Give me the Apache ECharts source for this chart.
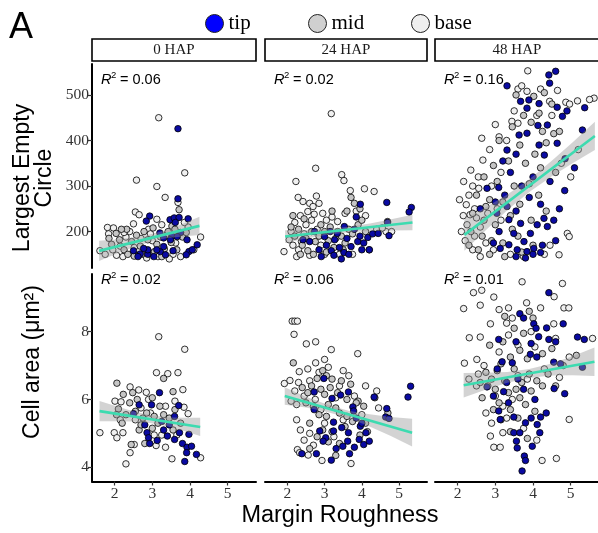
<!DOCTYPE html>
<html><head><meta charset="utf-8">
<script src="https://cdn.jsdelivr.net/npm/echarts@6/dist/echarts.min.js"></script>
<style>html,body{margin:0;padding:0;background:#fff}#c{width:598px;height:533px}</style>
</head><body><div id="c"></div>
<script>
// ---------- labels / ticks ----------
const panelNames = ['0 HAP', '24 HAP', '48 HAP'];
const r2Lec = ['0.06', '0.02', '0.16'];
const r2Area = ['0.02', '0.06', '0.01'];
const xTicks = [2, 3, 4, 5];
const lecTicks = [200, 300, 400, 500];
const areaTicks = [4, 6, 8];
const typeNames = ['tip', 'mid', 'base'];

// ---------- 0 HAP : Largest Empty Circle ----------
const lec0_tip = [[3.68,426],[3.68,272],[2.93,234],[2.84,223],[3.47,226],[3.58,230],[3.71,231],[3.95,228],[3.61,220],[3.20,197],[3.52,190],[3.75,198],
[2.50,158],[2.68,151],[2.88,150],[3.04,145],[3.21,156],[3.35,149],[3.12,160],[2.88,160],[3.30,167],[2.77,163],[3.48,182],[3.66,189],[3.92,182],[3.97,156],[4.19,171],[4.06,160],[3.90,149],[2.62,145],[3.55,158],[3.30,186]];
const lec0_mid = [[3.71,248],[3.52,212],[3.60,205],[2.04,196],[2.13,182],[1.92,172],[2.25,160],[2.35,150],[2.45,178],[2.58,192],[2.68,168],[2.78,200],[2.88,182],[2.98,152],[3.02,208],[3.12,172],[3.22,188],[3.32,162],[3.42,200],[3.50,176],[3.80,188],[3.90,198],[2.32,205],[2.52,146],[3.06,156],[2.72,150],[3.25,145],[3.65,160],[1.85,185],[2.18,205]];
const lec0_base = [[3.17,450],[3.86,329],[2.58,313],[3.12,299],[3.34,275],[3.68,264],[2.55,243],[2.65,237],[3.12,227],[2.50,217],[1.81,209],[1.97,208],[1.84,195],[1.61,158],[1.75,150],[2.05,148],[2.22,145],[2.40,200],[2.30,188],[2.52,165],[2.70,185],[2.90,205],[3.00,180],[3.25,215],[3.40,195],[3.55,150],[3.75,145],[3.95,210],[4.28,188],[4.10,160],[2.15,168],[2.85,142],[3.45,140],[3.85,220],[2.25,198],[2.95,195],[3.15,145],[2.62,148],[1.95,160],[3.62,175]];

// ---------- 24 HAP : Largest Empty Circle ----------
const lec24_tip = [[3.96,260],[4.67,264],[5.33,253],[5.27,243],[4.73,191],[4.69,220],[2.91,145],[3.18,158],[3.52,154],[3.71,167],[3.89,178],[4.16,187],[4.29,195],[4.44,196],[4.20,160],[3.27,182],[3.00,189],[3.53,211],[3.34,196],[3.80,205],[2.73,200],[2.42,182],[3.05,170],[3.40,165],[3.60,185],[3.95,190],[4.05,175],[2.85,160],[3.15,200],[3.65,150],[3.85,232],[3.45,140],[2.60,178],[3.25,148],[4.00,160]];
const lec24_mid = [[3.71,275],[3.80,262],[3.60,245],[2.10,210],[2.20,190],[2.30,205],[2.40,170],[2.50,185],[2.55,158],[2.65,200],[2.75,178],[2.85,190],[2.90,215],[3.00,200],[3.10,180],[3.15,210],[3.25,165],[3.35,200],[3.45,190],[3.55,175],[3.65,205],[3.75,195],[3.90,215],[4.00,225],[4.10,200],[2.35,150],[2.70,150],[3.05,155],[3.50,160],[2.15,235],[3.95,250],[4.69,222],[2.45,228],[3.20,245]];
const lec24_base = [[3.18,459],[2.76,339],[2.23,310],[3.46,325],[3.52,312],[2.78,278],[3.69,290],[4.07,294],[4.33,288],[2.29,275],[2.42,266],[2.60,262],[2.69,255],[2.85,262],[2.72,238],[2.55,244],[1.91,156],[2.10,200],[2.05,182],[2.20,220],[2.35,235],[2.50,215],[2.15,170],[2.30,160],[2.45,195],[2.65,225],[2.80,205],[2.95,240],[3.05,225],[3.20,232],[3.35,222],[3.55,240],[3.85,245],[4.10,235],[4.40,205],[4.65,200],[3.00,150],[3.40,150],[2.60,148],[2.25,145],[3.75,150],[4.20,160],[2.90,170],[3.30,185],[2.38,178],[4.55,208],[4.80,200]];

// ---------- 48 HAP : Largest Empty Circle ----------
const lec48_tip = [[4.60,552],[4.42,544],[4.44,526],[3.31,520],[3.67,486],[3.89,489],[3.84,471],[4.16,481],[4.64,473],[5.37,472],[4.90,465],[4.78,453],[3.63,412],[3.84,416],[4.13,433],[4.38,434],[5.31,423],[4.64,394],[4.16,390],[3.31,379],[3.20,355],[3.55,370],[4.30,368],[4.85,360],[5.10,340],[2.78,295],[3.09,297],[4.84,290],[4.00,320],[3.70,300],[4.45,310],[3.40,330],[2.60,250],[3.00,265],[3.25,280],[3.90,275],[4.20,260],[4.70,250],[3.55,245],
[3.13,163],[3.36,171],[3.58,160],[3.84,156],[4.02,163],[4.20,154],[3.76,178],[3.49,196],[3.93,196],[4.11,215],[4.29,229],[4.38,211],[3.67,218],[3.36,226],[3.31,255],[3.04,240],[3.55,145],[3.80,142],[4.00,150],[2.95,175],[3.10,200],[4.55,225],[4.60,180],[4.25,170]];
const lec48_mid = [[4.02,497],[4.16,460],[3.55,500],[4.30,505],[3.75,455],[4.50,480],[3.45,430],[3.95,440],[4.25,420],[4.55,415],[3.10,400],[3.65,390],[4.05,370],[4.35,395],[2.95,345],[3.35,355],[3.80,350],[4.20,340],[4.60,330],[2.70,320],[3.05,310],[3.50,300],[3.90,305],[2.50,280],[2.85,270],[3.20,265],[3.65,260],[4.15,280],[2.40,240],[2.70,225],[3.00,215],[3.45,205],[3.95,225],[4.35,245],[2.35,200],[2.65,190],[2.90,180],[3.20,175],[3.60,190],[4.00,170],[2.55,160],[2.85,150],[3.25,145],[3.70,155],[2.30,170],[3.40,235],[4.70,420],[2.75,255]];
const lec48_base = [[3.86,553],[3.60,513],[3.84,508],[4.20,513],[4.44,486],[4.87,484],[4.97,480],[5.18,487],[5.62,493],[3.44,442],[3.60,438],[2.64,405],[3.10,408],[3.30,400],[2.16,310],[2.35,335],[2.67,357],[2.56,295],[2.23,259],[2.33,237],[2.45,250],[4.91,196],[4.96,189],[4.69,149],[5.00,320],[4.75,350],[5.20,380],[3.00,435],[2.85,380],[2.40,300],[2.05,270],[2.15,235],[2.25,215],[2.50,230],[2.10,200],[2.20,180],[2.40,160],[2.45,190],[2.60,210],[2.75,175],[2.95,160],[3.05,250],[3.15,225],[2.80,240],[2.60,145],[3.40,150],[3.75,145],[4.30,150],[4.45,170],[3.50,465],[4.10,455],[4.50,455],[2.90,300],[3.15,330],[2.55,320],[3.70,520],[4.65,510],[5.50,490],[2.30,280]];

// ---------- 0 HAP : Cell area ----------
const area0_tip = [[3.19,6.20],[2.65,5.84],[2.98,5.84],[3.70,5.82],[3.59,5.50],[2.50,5.58],[2.86,5.02],[2.90,4.87],[2.93,4.70],[3.13,4.79],[3.40,4.92],[3.59,4.82],[3.72,5.02],[3.97,4.97],[3.80,4.70],[3.92,4.59],[4.04,4.62],[3.91,4.43],[3.86,4.17],[4.17,4.38],[3.30,5.10],[3.45,5.25],[3.25,5.35],[2.80,5.25]];
const area0_mid = [[2.06,6.48],[2.48,6.20],[2.23,6.15],[3.55,6.23],[2.40,5.90],[2.60,6.00],[3.00,6.05],[2.10,5.72],[2.30,5.55],[2.55,5.65],[2.75,5.45],[2.85,5.60],[3.05,5.50],[3.15,5.30],[3.30,5.55],[3.45,5.45],[3.60,5.70],[2.20,5.30],[2.65,5.10],[3.00,5.15],[3.55,5.10],[2.44,4.67],[2.80,4.70],[3.30,6.62],[2.05,5.55],[3.75,5.30],[3.20,5.80],[2.70,5.25]];
const area0_base = [[3.17,7.85],[3.86,7.48],[3.11,6.79],[3.41,6.76],[3.68,6.79],[2.41,6.37],[2.64,6.28],[2.84,6.21],[3.81,6.29],[2.01,5.95],[2.17,5.93],[3.84,5.77],[3.95,5.58],[1.61,5.02],[1.99,5.02],[2.06,4.87],[2.22,5.02],[2.52,4.67],[2.41,4.43],[2.30,4.10],[3.10,4.64],[3.35,4.59],[4.28,4.28],[3.52,4.25],[2.95,5.60],[3.35,5.80],[2.55,5.40],[3.60,5.95],[2.15,5.40],[3.05,4.95],[3.65,4.95],[3.25,4.95],[2.70,5.75],[2.90,6.00]];

// ---------- 24 HAP : Cell area ----------
const area24_tip = [[2.98,6.62],[2.72,6.22],[3.20,6.03],[3.64,6.22],[3.43,6.13],[3.76,5.78],[3.78,5.66],[4.33,6.07],[5.31,6.39],[5.24,6.07],[4.67,5.73],[4.64,5.48],[4.73,5.44],[3.24,5.33],[2.87,5.07],[3.24,5.07],[3.46,5.17],[3.64,5.02],[3.96,5.21],[4.11,5.02],[4.20,4.77],[4.05,4.67],[3.93,4.82],[3.62,4.77],[3.49,4.62],[3.31,4.55],[3.80,4.59],[3.67,4.40],[3.03,4.87],[2.96,4.77],[2.78,4.40],[2.39,4.40],[3.18,4.21],[2.72,5.70],[3.85,5.45],[4.00,5.30]];
const area24_mid = [[2.16,7.08],[2.95,6.85],[3.05,6.70],[2.80,6.62],[3.20,6.60],[2.65,6.40],[2.90,6.30],[3.15,6.35],[3.45,6.55],[3.70,6.45],[2.40,6.35],[2.55,6.20],[3.00,6.15],[3.35,6.20],[3.60,6.00],[3.90,5.95],[2.50,5.90],[2.70,5.80],[3.10,5.85],[3.30,5.75],[3.85,5.90],[4.05,5.80],[2.85,5.55],[3.05,5.50],[3.40,5.60],[3.60,5.50],[3.75,5.35],[4.10,5.30],[2.60,5.30],[2.95,5.10],[3.20,5.05],[3.55,5.20],[2.80,4.90],[3.10,4.75],[3.40,4.70],[3.95,4.95],[4.15,5.05],[2.60,4.55],[3.30,4.35],[4.35,6.05],[4.70,5.60]];
const area24_base = [[2.13,8.31],[2.20,8.31],[2.27,8.31],[2.18,7.92],[2.51,7.64],[2.76,7.70],[3.18,7.47],[3.89,7.35],[2.76,7.08],[3.00,7.18],[2.32,6.82],[1.92,6.47],[2.07,6.56],[2.55,6.90],[2.85,6.80],[3.10,6.95],[3.50,6.85],[3.65,6.70],[2.30,6.50],[2.60,6.55],[3.40,6.40],[4.10,6.40],[4.40,6.25],[2.20,6.25],[2.45,6.10],[2.75,6.00],[3.30,6.05],[3.80,6.10],[4.45,5.75],[2.25,5.85],[2.90,5.70],[2.25,5.40],[2.35,5.10],[2.60,5.00],[3.00,5.30],[3.50,5.40],[4.00,5.55],[2.27,4.52],[2.33,4.43],[2.56,4.36],[2.93,4.20],[3.71,4.11],[2.45,4.80],[2.70,4.65],[3.25,4.90],[2.10,5.95]];

// ---------- 48 HAP : Cell area ----------
const area48_tip = [[4.42,9.15],[3.65,8.53],[3.75,8.40],[4.02,8.23],[4.08,8.10],[4.36,8.11],[4.80,8.23],[5.18,7.84],[5.36,7.77],[3.09,7.77],[3.55,7.70],[3.95,7.65],[4.15,7.85],[4.42,7.77],[4.60,7.70],[3.18,7.11],[3.45,7.08],[3.93,7.33],[4.10,7.25],[4.73,7.05],[5.31,6.95],[4.55,7.10],[2.78,6.37],[3.22,6.23],[3.75,6.30],[4.56,6.32],[4.84,6.17],[3.09,5.66],[3.35,5.90],[3.13,5.41],[3.49,5.48],[3.80,5.31],[3.95,5.45],[4.11,5.26],[4.20,5.48],[4.35,5.60],[3.49,5.02],[3.65,5.02],[4.18,5.02],[3.56,4.77],[3.58,4.57],[3.98,4.62],[3.77,4.33],[3.80,4.20],[3.71,3.89],[3.05,6.90],[3.60,6.60],[4.05,6.00],[3.30,6.50],[2.95,6.10]];
const area48_mid = [[2.90,6.60],[3.05,6.85],[3.25,6.55],[3.50,6.90],[3.70,6.50],[3.90,6.75],[4.10,6.55],[4.40,6.75],[2.75,6.80],[2.60,6.50],[3.15,7.05],[3.40,7.25],[3.65,7.45],[3.85,7.20],[4.25,7.35],[4.50,7.50],[3.20,7.70],[3.50,8.10],[3.75,7.95],[4.00,8.40],[3.90,8.60],[3.25,8.45],[2.85,7.60],[3.00,6.30],[3.35,6.20],[3.65,6.05],[3.95,6.25],[4.25,6.40],[3.10,5.90],[3.40,5.70],[3.80,5.85],[2.95,5.70],[3.15,5.40],[3.60,5.45],[4.05,5.65],[3.40,5.05],[3.85,4.85],[2.65,6.05],[4.60,6.40],[4.80,7.00],[5.15,7.30],[3.55,6.30]];
const area48_base = [[2.42,9.15],[2.64,9.22],[2.96,9.02],[3.71,9.47],[4.78,9.42],[4.56,9.03],[2.16,8.68],[2.60,8.78],[3.10,8.65],[3.35,8.70],[3.83,8.85],[4.20,8.70],[4.82,8.70],[4.95,8.70],[2.87,8.23],[3.30,8.25],[3.45,8.40],[4.55,8.23],[5.58,7.80],[2.31,7.82],[2.60,7.84],[3.35,7.90],[4.60,7.80],[2.18,7.07],[2.51,7.18],[4.96,7.25],[4.96,5.41],[2.96,4.59],[3.13,4.59],[2.87,4.92],[3.20,5.02],[4.24,4.20],[4.62,4.26],[2.30,6.60],[2.55,6.75],[2.80,6.40],[3.00,6.10],[3.20,5.80],[2.75,5.60],[2.90,5.30],[3.45,6.00],[3.85,6.60],[4.30,6.90],[4.70,6.65],[3.10,7.40],[3.60,7.60],[4.05,7.55],[3.95,8.00],[2.70,7.00],[3.30,5.45],[2.50,6.40],[3.60,6.70],[3.75,5.15],[4.10,4.80]];

// ---------- fitted lines and confidence bands ([x, lower, upper]) ----------
const fitLec0 = [[1.59,157.6],[4.25,212.5]];
const fitLec24 = [[1.94,189.0],[5.36,219.8]];
const fitLec48 = [[2.18,192.7],[5.64,410.0]];
const fitArea0 = [[1.60,5.655],[4.27,5.19]];
const fitArea24 = [[1.93,6.10],[5.35,5.02]];
const fitArea48 = [[2.16,6.42],[5.63,7.11]];
const bandLec0 = [[1.59,135.6,179.6],[2.03,150.7,182.7],[2.48,165.0,187.0],[2.92,176.6,193.6],[3.36,185.1,203.1],[3.81,189.4,217.4],[4.25,192.5,232.5]];
const bandLec24 = [[1.94,175,203],[2.51,184.6,203.6],[3.08,192.8,205.8],[3.65,198.4,210.4],[4.22,201.0,218.0],[4.79,202.2,227.2],[5.36,202.8,236.8]];
const bandLec48 = [[2.18,157.7,227.7],[2.76,204.1,254.1],[3.33,247.9,281.9],[3.91,287.3,315.3],[4.49,320.8,354.8],[5.06,350.6,396.6],[5.64,379,441]];
const bandArea0 = [[1.6,5.355,5.955],[2.045,5.358,5.798],[2.49,5.35,5.65],[2.935,5.303,5.543],[3.38,5.215,5.475],[3.825,5.078,5.458],[4.27,4.92,5.46]];
const bandArea24 = [[1.93,5.84,6.36],[2.5,5.76,6.08],[3.07,5.63,5.85],[3.64,5.45,5.67],[4.21,5.20,5.56],[4.78,4.92,5.48],[5.35,4.61,5.43]];
const bandArea48 = [[2.16,6.06,6.78],[2.74,6.285,6.785],[3.32,6.491,6.811],[3.90,6.636,6.896],[4.47,6.71,7.05],[5.05,6.715,7.275],[5.63,6.69,7.53]];

// ---------- build ----------
const colors = {tip:'#0a0aa2', mid:'#c6c6c6', base:'#f0f0f0'};
const legendColors = {tip:'#0000ff', mid:'#d0d0d0', base:'#efefef'};
const panelData = [
  [[lec0_tip,lec0_mid,lec0_base],[lec24_tip,lec24_mid,lec24_base],[lec48_tip,lec48_mid,lec48_base]],
  [[area0_tip,area0_mid,area0_base],[area24_tip,area24_mid,area24_base],[area48_tip,area48_mid,area48_base]]
];
const fits = [[fitLec0,fitLec24,fitLec48],[fitArea0,fitArea24,fitArea48]];
const bands = [[bandLec0,bandLec24,bandLec48],[bandArea0,bandArea24,bandArea48]];

const colLeft = [92, 265, 435], colW = [164, 162, 164];
const rowTop = [64, 274], rowH = [204, 207.5];
const yRange = [[120, 568], [3.58, 9.7]];
const yTicks = [lecTicks, areaTicks];
const serif = 'Liberation Serif', sans = 'Liberation Sans';

const grid = [], xAxis = [], yAxis = [], series = [], graphic = [];
for (let r = 0; r < 2; r++) {
  for (let c = 0; c < 3; c++) {
    const g = r * 3 + c;
    grid.push({left: colLeft[c], top: rowTop[r], width: colW[c], height: rowH[r], outerBoundsMode: 'none'});
    xAxis.push({gridIndex: g, type: 'value', min: 1.4, max: 5.75, show: r === 1,
      axisLine: {onZero: false, lineStyle: {color: '#000', width: 2}},
      axisTick: {customValues: xTicks, length: 4, lineStyle: {color: '#333', width: 1.2}},
      axisLabel: {customValues: xTicks, color: '#333', fontFamily: serif, fontSize: 15.5, margin: 4},
      splitLine: {show: false}});
    yAxis.push({gridIndex: g, type: 'value', min: yRange[r][0], max: yRange[r][1], show: c === 0,
      axisLine: {show: true, onZero: false, lineStyle: {color: '#000', width: 2}},
      axisTick: {show: true, customValues: yTicks[r], length: 4, lineStyle: {color: '#333', width: 1.2}},
      axisLabel: {customValues: yTicks[r], color: '#333', fontFamily: serif, fontSize: 15.5, margin: 3},
      splitLine: {show: false}});
    // points: base, mid, tip
    [2, 1, 0].forEach(t => {
      series.push({type: 'scatter', name: typeNames[t], xAxisIndex: g, yAxisIndex: g,
        data: panelData[r][c][t], symbol: 'circle', symbolSize: 6.5, silent: true, z: 2,
        itemStyle: {color: colors[typeNames[t]], borderColor: '#000', borderWidth: 0.8, opacity: 1}});
    });
    const band = bands[r][c];
    series.push({type: 'custom', xAxisIndex: g, yAxisIndex: g, data: band, encode: {x: 0, y: [1, 2]},
      silent: true, z: 3,
      renderItem: (params, api) => {
        if (params.dataIndex !== 0) return null;
        const up = band.map(d => api.coord([d[0], d[2]]));
        const lo = band.slice().reverse().map(d => api.coord([d[0], d[1]]));
        return {type: 'polygon', shape: {points: up.concat(lo)}, style: {fill: 'rgba(150,150,150,0.42)'}};
      }});
    series.push({type: 'line', xAxisIndex: g, yAxisIndex: g, data: fits[r][c], showSymbol: false,
      silent: true, z: 4, lineStyle: {color: '#3ddbb0', width: 2.6}});
    // R^2 labels
    const rx = colLeft[c] + 9, ry = r === 0 ? 80 : 280;
    const val = (r === 0 ? r2Lec : r2Area)[c];
    graphic.push({type: 'text', x: rx, y: ry, style: {text: 'R', font: 'italic 14.5px ' + sans, fill: '#000', verticalAlign: 'middle', textVerticalAlign: 'middle'}});
    graphic.push({type: 'text', x: rx + 10, y: ry - 5, style: {text: '2', font: '9.5px ' + sans, fill: '#000', verticalAlign: 'middle', textVerticalAlign: 'middle'}});
    graphic.push({type: 'text', x: rx + 19, y: ry, style: {text: '= ' + val, font: '14.5px ' + sans, fill: '#000', verticalAlign: 'middle', textVerticalAlign: 'middle'}});
  }
}
// strip labels
for (let c = 0; c < 3; c++) {
  graphic.push({type: 'rect', shape: {x: colLeft[c], y: 39, width: c === 2 ? colW[c] + 4 : colW[c], height: 22},
    style: {fill: '#fff', stroke: '#000', lineWidth: 1.6}});
  graphic.push({type: 'text', x: colLeft[c] + colW[c] / 2, y: 50.5,
    style: {text: panelNames[c], font: '15px ' + serif, fill: '#1a1a1a', align: 'center', textAlign: 'center', verticalAlign: 'middle', textVerticalAlign: 'middle'}});
}
// titles
graphic.push({type: 'text', x: 9, y: 28, style: {text: 'A', font: '36px ' + sans, fill: '#000', verticalAlign: 'middle', textVerticalAlign: 'middle'}});
graphic.push({type: 'text', x: 34, y: 178, rotation: Math.PI / 2,
  style: {text: 'Largest Empty\nCircle', font: '23px ' + sans, lineHeight: 22, fill: '#000', align: 'center', textAlign: 'center', verticalAlign: 'middle', textVerticalAlign: 'middle'}});
graphic.push({type: 'text', x: 33, y: 362, rotation: Math.PI / 2,
  style: {text: 'Cell area (μm²)', font: '23px ' + sans, fill: '#000', align: 'center', textAlign: 'center', verticalAlign: 'middle', textVerticalAlign: 'middle'}});
graphic.push({type: 'text', x: 340, y: 516,
  style: {text: 'Margin Roughness', font: '23.5px ' + sans, fill: '#000', align: 'center', textAlign: 'center', verticalAlign: 'middle', textVerticalAlign: 'middle'}});

const legendLeft = [200, 303, 406];
const legend = typeNames.map((n, i) => ({
  data: [{name: n, itemStyle: {color: legendColors[n], borderColor: '#222', borderWidth: 1}}],
  left: legendLeft[i], top: 8, icon: 'circle', itemWidth: 18, itemHeight: 18, selectedMode: false,
  textStyle: {fontFamily: serif, fontSize: 21, color: '#000'}
}));

const chart = echarts.init(document.getElementById('c'), null, {renderer: 'canvas'});
chart.setOption({animation: false, backgroundColor: '#fff', grid, xAxis, yAxis, series, graphic, legend});
</script></body></html>
